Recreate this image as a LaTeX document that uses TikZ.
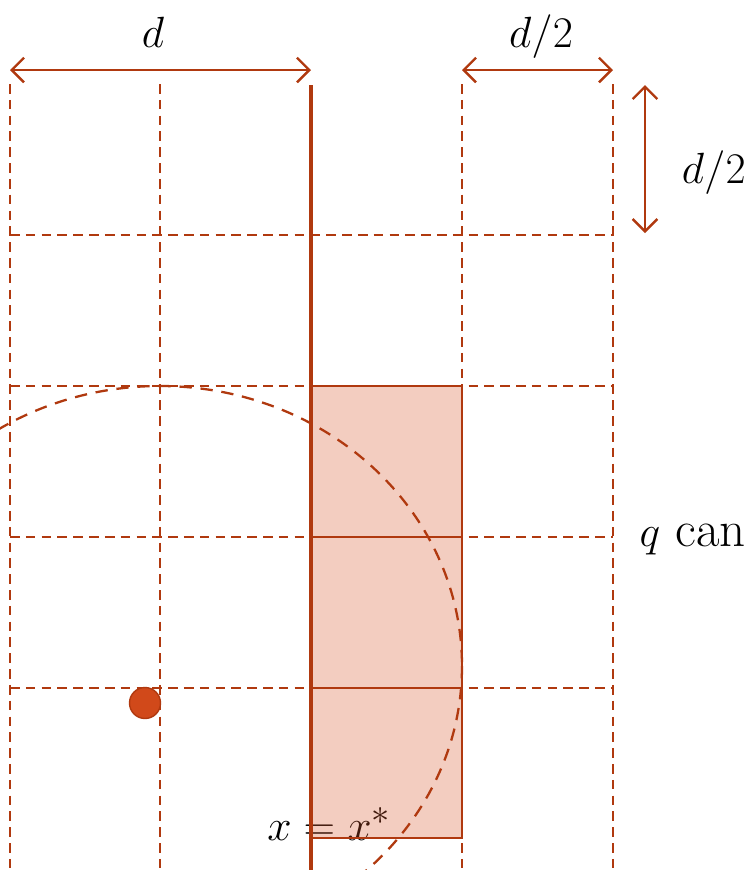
\documentclass[tikz,border=0pt]{standalone}
\usepackage{tikz}
\usetikzlibrary{arrows.meta, positioning}
\usepackage{amsmath}
\definecolor{gridRed}{HTML}{B0390F}
\definecolor{cellTint}{HTML}{D7582D}
\definecolor{dotRed}{HTML}{D1491A}
\tikzset{
  gridLine/.style={gridRed, line width=0.9pt, dash pattern=on 5.5pt off 3.5pt},
  wallLine/.style={gridRed, line width=2.6pt},
  dimArrow/.style={{Straight Barb[length=7pt, width=14pt]}-{Straight Barb[length=7pt, width=14pt]},
                   gridRed, line width=1.4pt},
  ballArc/.style={gridRed, line width=1.3pt, dash pattern=on 7pt off 5pt},
  cellBox/.style={draw=gridRed, fill=cellTint, fill opacity=0.3, draw opacity=1, line width=1.4pt},
  cellLine/.style={gridRed, line width=1.4pt},
  queryDot/.style={circle, draw=gridRed, fill=dotRed, line width=0.8pt,
                   inner sep=0pt, minimum size=0.62cm},
}
\begin{document}
\begin{tikzpicture}[x=0.02cm, y=-0.02cm, font=\fontsize{29}{33}\selectfont]
    \useasboundingbox (0,0) rectangle (750,870);
    \clip (0,0) rectangle (750,870);
    \foreach \x in {10, 160, 462, 613} \draw[gridLine] (\x,84) -- (\x,870);
    \foreach \y in {235, 386, 537, 688} \draw[gridLine] (10,\y) -- (613,\y);
    \node[anchor=base] (eqLab) at (329,840) {$x = x^*$};
    \draw[cellBox] (311,386) rectangle (462,838);
    \foreach \y in {537, 688} \draw[cellLine] (311,\y) -- (462,\y);
    \draw[wallLine] (311,85) -- (311,870);
    \draw[ballArc] (160,666) ellipse [x radius=302, y radius=280];
    \node[queryDot] (qDot) at (145,703) {};
    \coordinate (dA) at (10,70);
    \coordinate (dB) at (311,70);
    \coordinate (hA) at (462,70);
    \coordinate (hB) at (613,70);
    \coordinate (vA) at (645,85);
    \coordinate (vB) at (645,233);
    \draw[dimArrow] (dA) -- (dB);
    \draw[dimArrow] (hA) -- (hB);
    \draw[dimArrow] (vA) -- (vB);
    \node[anchor=base] (dLab) at (153,47) {$d$};
    \node[anchor=base] (hLab) at (541,47) {$d/2$};
    \node[anchor=base east, inner sep=0pt] (vLab) at (746,183) {$d/2$};
    \node[anchor=base east, inner sep=0pt] (qLab) at (746,546) {$q$ can};
  \end{tikzpicture}
\end{document}
